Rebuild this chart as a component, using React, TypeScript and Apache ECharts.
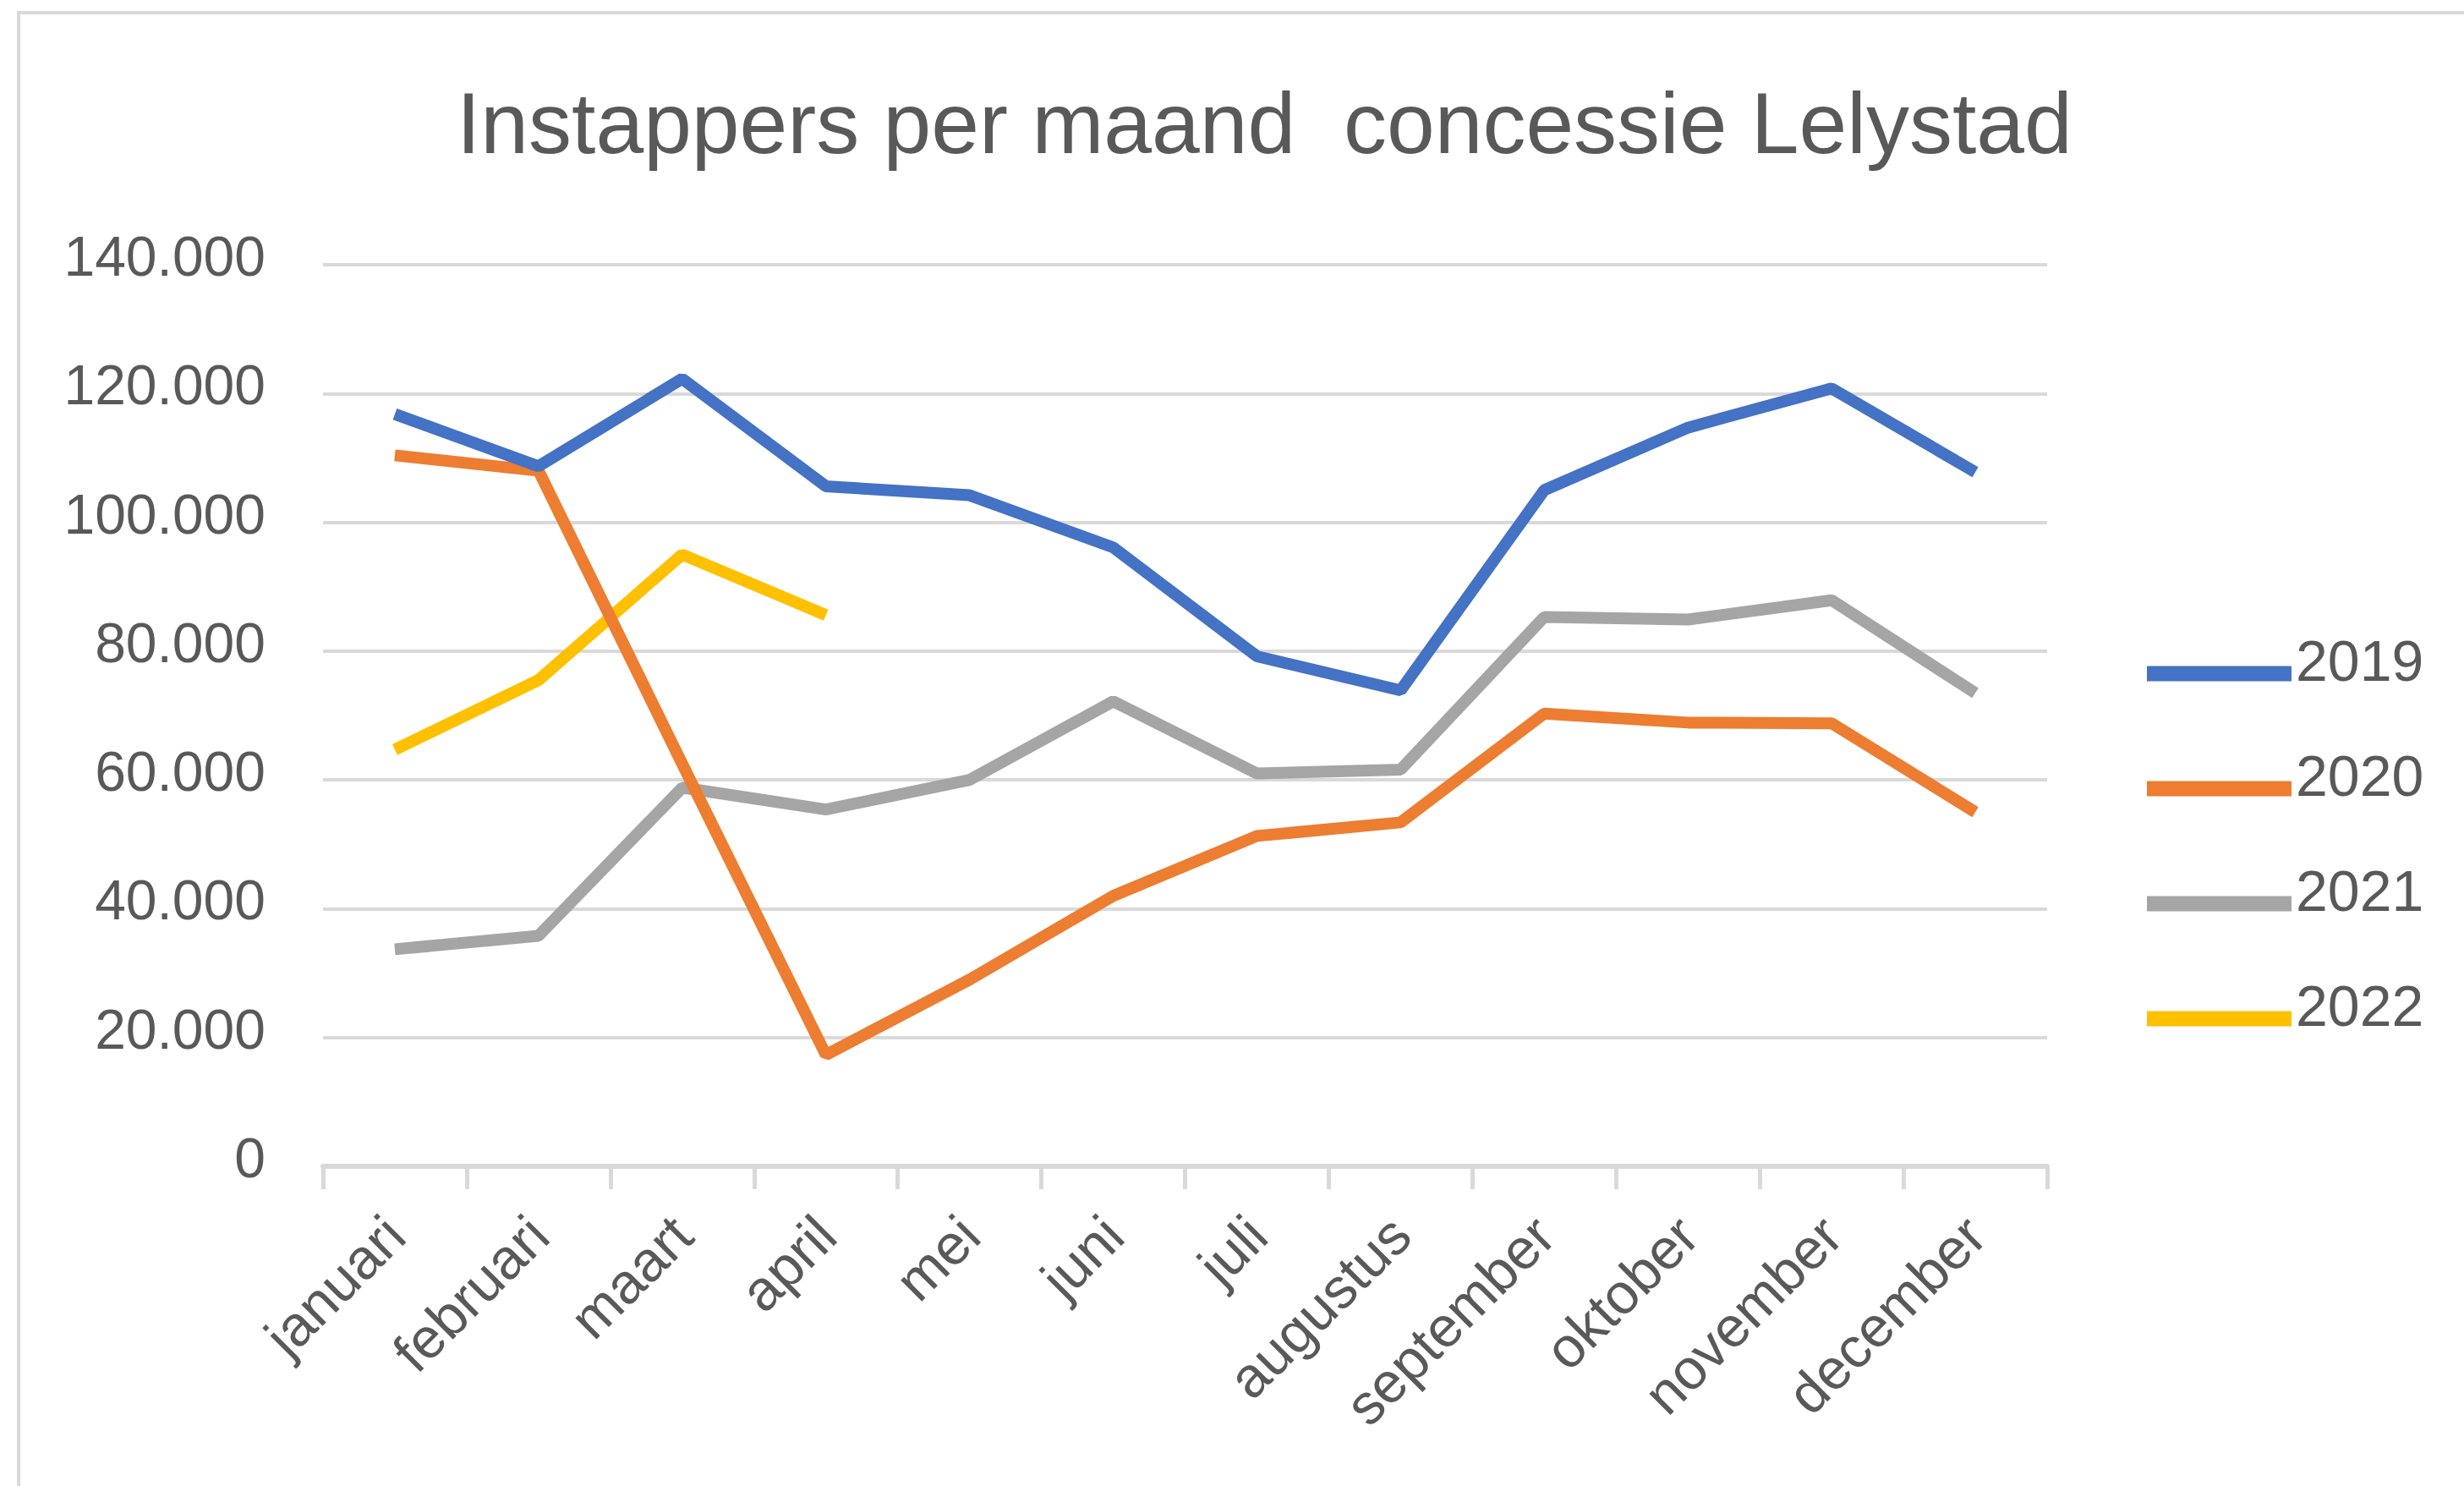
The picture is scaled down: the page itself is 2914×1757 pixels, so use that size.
import React, { useEffect, useRef } from "react";
import * as echarts from "echarts";

const months = ["januari", "februari", "maart", "april", "mei", "juni", "juli", "augustus", "september", "oktober", "november", "december"];
const years = ["2019", "2020", "2021", "2022"];
const values2019 = [116800, 108700, 122300, 105600, 104200, 96100, 79200, 73900, 105000, 114700, 120800, 107800];
const values2020 = [110400, 108000, 62500, 17300, 29000, 42000, 51300, 53400, 70300, 68900, 68800, 55000];
const values2021 = [33700, 35800, 58800, 55400, 60000, 72200, 61000, 61600, 85300, 84900, 87900, 73500];
const values2022 = [64700, 75500, 95000, 85600];
const colors = ["#4472C4", "#ED7D31", "#A5A5A5", "#FFC000"];

const FONT = "'Liberation Sans', Arial, sans-serif";
const TEXT = "#595959";
const GRID = "#D9D9D9";

function fmt(v: number): string {
  return String(Math.round(v)).replace(/\B(?=(\d{3})+(?!\d))/g, ".");
}

// legend icon: thick bar sitting low in the icon box so the label sits slightly above it
const LEGEND_ICON = "path://M0,0M0,31L171,31L171,49L0,49Z";

export default function App() {
  const ref = useRef<HTMLDivElement>(null);
  useEffect(() => {
    if (!ref.current) return;
    const chart = echarts.init(ref.current, undefined, { renderer: "svg" });
    const seriesData = [values2019, values2020, values2021, values2022];
    chart.setOption({
      animation: false,
      backgroundColor: "#ffffff",
      textStyle: { fontFamily: FONT },
      title: {
        text: "Instappers per maand  concessie Lelystad",
        left: 540,
        top: 95,
        padding: 0,
        textStyle: { fontFamily: FONT, fontSize: 102, fontWeight: "normal", color: TEXT },
      },
      graphic: [
        {
          type: "rect",
          shape: { x: 22, y: 15, width: 3200, height: 2000 },
          style: { fill: "none", stroke: GRID, lineWidth: 4 },
          silent: true,
          z: -10,
        },
      ],
      legend: {
        data: years,
        orient: "vertical",
        left: 2539,
        top: 747,
        padding: 0,
        icon: LEGEND_ICON,
        itemWidth: 171,
        itemHeight: 49,
        itemGap: 68,
        textStyle: { fontFamily: FONT, fontSize: 68, color: TEXT, lineHeight: 68 },
      },
      grid: { left: 382, right: 493, top: 313, bottom: 378, containLabel: false },
      xAxis: {
        type: "category",
        data: months,
        boundaryGap: true,
        axisLine: { show: true, lineStyle: { color: GRID, width: 6 } },
        axisTick: { show: true, length: 27, lineStyle: { color: GRID, width: 5 } },
        axisLabel: { interval: 0, rotate: 45, margin: 70, fontFamily: FONT, fontSize: 67, color: TEXT },
        splitLine: { show: false },
      },
      yAxis: {
        type: "value",
        min: 0,
        max: 140000,
        interval: 20000,
        axisLine: { show: false },
        axisTick: { show: false },
        axisLabel: {
          margin: 68,
          fontFamily: FONT,
          fontSize: 66,
          color: TEXT,
          verticalAlign: "bottom",
          lineHeight: 20,
          formatter: (v: number) => fmt(v),
        },
        splitLine: { show: true, lineStyle: { color: GRID, width: 4 } },
      },
      series: years.map((y, i) => ({
        name: y,
        type: "line",
        data: seriesData[i],
        symbol: "none",
        showSymbol: false,
        color: colors[i],
        itemStyle: { color: colors[i] },
        lineStyle: { color: colors[i], width: 14 },
        z: 10 - i,
      })),
    });
    return () => chart.dispose();
  }, []);
  return (
    <div
      ref={ref}
      style={{ position: "fixed", left: 0, top: 0, width: 2914, height: 1757 }}
    />
  );
}
